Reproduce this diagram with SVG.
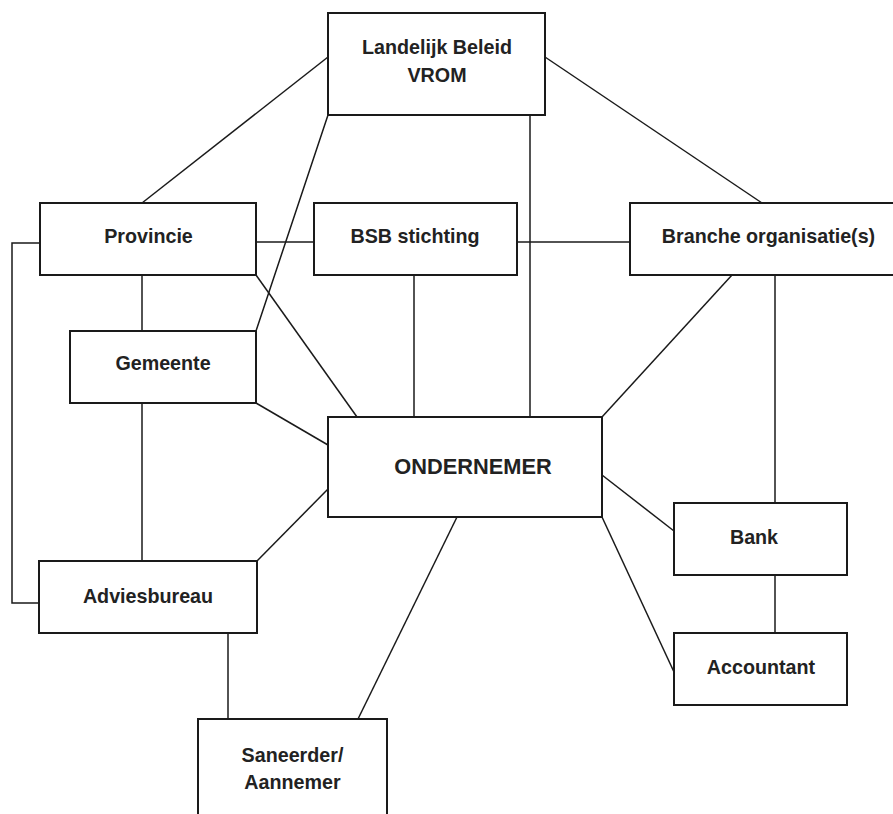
<svg xmlns="http://www.w3.org/2000/svg" width="893" height="814" viewBox="0 0 893 814">
<style>
.box{fill:#fff;stroke:#1a1a1a;stroke-width:2}
.lbl{font-family:"Liberation Sans",Arial,sans-serif;font-weight:bold;font-size:19.7px;fill:#222;text-anchor:middle}
.big{font-size:21.8px}
.con line,.con polyline{stroke:#1a1a1a;stroke-width:1.5;fill:none}
</style>
<rect width="893" height="814" fill="#fff"/>
<g class="con" id="connectors">
<line x1="328" y1="57" x2="142" y2="203"/>
<line x1="328" y1="115" x2="256" y2="331"/>
<line x1="545" y1="57" x2="762" y2="203"/>
<line x1="530" y1="115" x2="530" y2="417"/>
<line x1="256" y1="242" x2="314" y2="242"/>
<line x1="517" y1="242" x2="630" y2="242"/>
<line x1="256" y1="275" x2="357" y2="417"/>
<line x1="142" y1="275" x2="142" y2="331"/>
<line x1="414" y1="275" x2="414" y2="417"/>
<line x1="732" y1="275" x2="602" y2="417"/>
<line x1="775" y1="275" x2="775" y2="503"/>
<line x1="256" y1="403" x2="328" y2="445"/>
<line x1="142" y1="403" x2="142" y2="561"/>
<polyline points="40,243 12,243 12,603 39,603"/>
<line x1="328" y1="489" x2="257" y2="561"/>
<line x1="457" y1="517" x2="358" y2="719"/>
<line x1="228" y1="633" x2="228" y2="719"/>
<line x1="602" y1="475" x2="674" y2="531"/>
<line x1="602" y1="517" x2="674" y2="672"/>
<line x1="775" y1="575" x2="775" y2="633"/>
</g>
<g id="landelijk"><rect class="box" x="328" y="13" width="217" height="102"/><text class="lbl" x="437" y="54">Landelijk Beleid</text><text class="lbl" x="437" y="82">VROM</text></g>
<g id="provincie"><rect class="box" x="40" y="203" width="216" height="72"/><text class="lbl" x="148.5" y="243">Provincie</text></g>
<g id="bsb"><rect class="box" x="314" y="203" width="203" height="72"/><text class="lbl" x="415" y="243">BSB stichting</text></g>
<g id="branche"><rect class="box" x="630" y="203" width="270" height="72"/><text class="lbl" x="768.5" y="243">Branche organisatie(s)</text></g>
<g id="gemeente"><rect class="box" x="70" y="331" width="186" height="72"/><text class="lbl" x="163" y="370">Gemeente</text></g>
<g id="ondernemer"><rect class="box" x="328" y="417" width="274" height="100"/><text class="lbl big" x="473" y="474">ONDERNEMER</text></g>
<g id="bank"><rect class="box" x="674" y="503" width="173" height="72"/><text class="lbl" x="754" y="544">Bank</text></g>
<g id="accountant"><rect class="box" x="674" y="633" width="173" height="72"/><text class="lbl" x="761" y="674">Accountant</text></g>
<g id="adviesbureau"><rect class="box" x="39" y="561" width="218" height="72"/><text class="lbl" x="148" y="603">Adviesbureau</text></g>
<g id="saneerder"><rect class="box" x="198" y="719" width="189" height="110"/><text class="lbl" x="292.5" y="762">Saneerder/</text><text class="lbl" x="292.5" y="789">Aannemer</text></g>
</svg>
